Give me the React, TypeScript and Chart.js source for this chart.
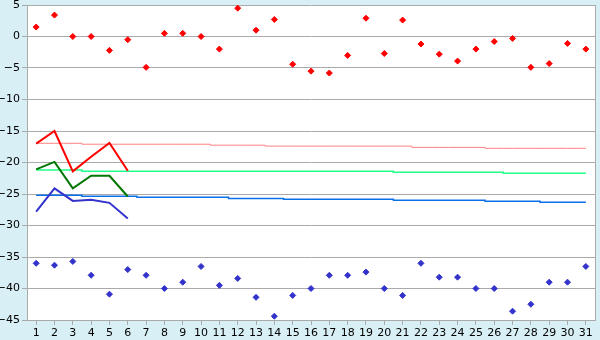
import { useEffect, useRef } from 'react';
import { Chart, registerables } from 'chart.js';

Chart.register(...registerables);

const days = ['1', '2', '3', '4', '5', '6', '7', '8', '9', '10', '11', '12', '13', '14', '15', '16', '17', '18', '19', '20', '21', '22', '23', '24', '25', '26', '27', '28', '29', '30', '31'];

const dailyMax = [1.5, 3.4, 0, 0, -2.2, -0.5, -4.9, 0.5, 0.5, 0, -2.0, 4.5, 1.0, 2.7, -4.4, -5.5, -5.8, -3.0, 2.9, -2.7, 2.6, -1.2, -2.8, -3.9, -2.0, -0.8, -0.3, -4.9, -4.3, -1.1, -2.0];
const dailyMin = [-36.0, -36.3, -35.7, -37.9, -40.9, -37.0, -37.9, -40.0, -39.0, -36.5, -39.5, -38.4, -41.4, -44.4, -41.1, -40.0, -37.9, -37.9, -37.4, -40.0, -41.1, -36.0, -38.2, -38.2, -40.0, -40.0, -43.6, -42.5, -39.0, -39.0, -36.5];

const recentMax = [-17.0, -15.0, -21.4, -19.1, -16.9, -21.3];
const recentMean = [-21.1, -19.9, -24.1, -22.1, -22.1, -25.4];
const recentMin = [-27.8, -24.1, -26.1, -25.9, -26.4, -28.9];

const normalMax = [-16.95, -16.95, -16.95, -17.1, -17.1, -17.1, -17.1, -17.1, -17.1, -17.1, -17.25, -17.25, -17.25, -17.4, -17.4, -17.4, -17.4, -17.4, -17.4, -17.4, -17.4, -17.6, -17.6, -17.6, -17.6, -17.75, -17.75, -17.75, -17.75, -17.75, -17.75];
const normalMean = [-21.2, -21.2, -21.2, -21.4, -21.4, -21.4, -21.4, -21.4, -21.4, -21.4, -21.4, -21.4, -21.4, -21.4, -21.4, -21.4, -21.4, -21.4, -21.4, -21.4, -21.55, -21.55, -21.55, -21.55, -21.55, -21.55, -21.7, -21.7, -21.7, -21.7, -21.7];
const normalMin = [-25.2, -25.2, -25.2, -25.35, -25.35, -25.35, -25.5, -25.5, -25.5, -25.5, -25.5, -25.7, -25.7, -25.7, -25.85, -25.85, -25.85, -25.85, -25.85, -25.85, -26.0, -26.0, -26.0, -26.0, -26.0, -26.15, -26.15, -26.15, -26.3, -26.3, -26.3];

const yMin = -45;
const yMax = 5;
const yStep = 5;

const font = { family: '"DejaVu Sans", Verdana, sans-serif', size: 11 };

const framePlugin = {
  id: 'frame',
  beforeDraw(chart: any) {
    const { ctx, chartArea: a, width, height } = chart;
    ctx.save();
    ctx.fillStyle = '#D9EFF6';
    ctx.fillRect(0, 0, width, height);
    ctx.fillStyle = '#FFFFFF';
    ctx.fillRect(a.left, a.top, a.right - a.left, a.bottom - a.top);
    ctx.restore();
  },
  beforeDatasetsDraw(chart: any) {
    const { ctx, chartArea: a } = chart;
    ctx.save();
    ctx.strokeStyle = '#AAAAAA';
    ctx.lineWidth = 1;
    ctx.beginPath();
    ctx.moveTo(Math.round(a.right) + 0.5, a.top);
    ctx.lineTo(Math.round(a.right) + 0.5, a.bottom);
    ctx.stroke();
    ctx.restore();
  },
};

export default function App() {
  const ref = useRef<HTMLCanvasElement | null>(null);

  useEffect(() => {
    document.body.style.margin = '0';
    if (!ref.current) return;
    const pointCommon = {
      showLine: false,
      pointStyle: 'rectRot',
      pointRadius: 3,
      pointBorderWidth: 1,
    };
    const chart = new Chart(ref.current, {
      type: 'line',
      data: {
        labels: days,
        datasets: [
          { ...pointCommon, data: dailyMax, backgroundColor: '#FF0000', borderColor: '#FF0000' } as any,
          { ...pointCommon, data: dailyMin, backgroundColor: '#3333CC', borderColor: '#3333CC' } as any,
          { data: recentMax, borderColor: '#FF0000', borderWidth: 2, pointRadius: 0, tension: 0 },
          { data: recentMean, borderColor: '#007700', borderWidth: 2, pointRadius: 0, tension: 0 },
          { data: recentMin, borderColor: '#3333CC', borderWidth: 2, pointRadius: 0, tension: 0 },
          { data: normalMax, borderColor: '#FF8080', borderWidth: 1, pointRadius: 0, stepped: 'middle' },
          { data: normalMean, borderColor: '#22FF88', borderWidth: 1.5, pointRadius: 0, stepped: 'middle' },
          { data: normalMin, borderColor: '#0A70E8', borderWidth: 1.5, pointRadius: 0, stepped: 'middle' },
        ],
      },
      options: {
        animation: false,
        responsive: false,
        maintainAspectRatio: false,
        layout: { padding: { top: 5, right: 5, left: 0, bottom: 0 } },
        plugins: { legend: { display: false }, tooltip: { enabled: false } },
        scales: {
          x: {
            type: 'category',
            offset: true,
            grid: { drawOnChartArea: false, tickLength: 5, color: '#AAAAAA' },
            border: { color: '#AAAAAA' },
            ticks: { font, color: '#000000', padding: 2, maxRotation: 0, autoSkip: false },
            afterFit(s: any) {
              s.height = 20;
              s.paddingLeft = 0;
              s.paddingRight = 0;
            },
          },
          y: {
            min: yMin,
            max: yMax,
            grid: { color: '#AAAAAA', tickLength: 5 },
            border: { color: '#AAAAAA' },
            ticks: {
              stepSize: yStep,
              font,
              color: '#000000',
              padding: 2,
              callback: (v: any) => String(v).replace('-', '\u2212'),
            },
            afterFit(s: any) {
              s.width = 27;
              s.paddingTop = 0;
              s.paddingBottom = 0;
            },
          },
        },
      } as any,
      plugins: [framePlugin],
    });
    return () => chart.destroy();
  }, []);

  return <canvas ref={ref} width={600} height={340} style={{ display: 'block', width: 600, height: 340 }} />;
}
